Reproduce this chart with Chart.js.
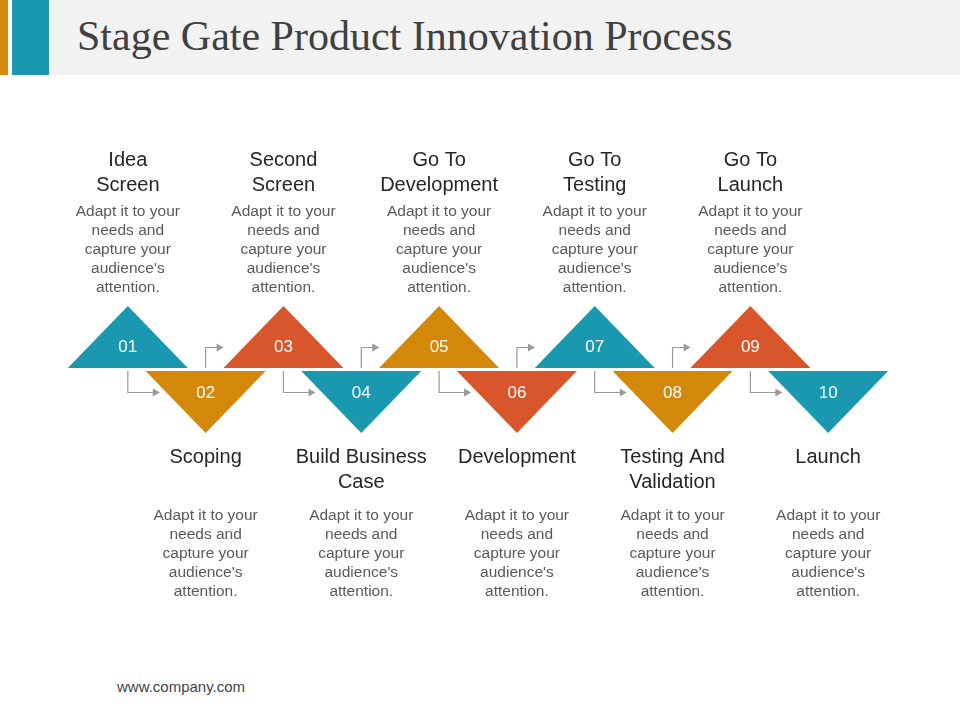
<!DOCTYPE html>
<html><head><meta charset="utf-8">
<script src="https://cdn.jsdelivr.net/npm/chart.js@4"></script>
<style>
body{margin:0;width:960px;height:720px;background:#fff;position:relative;overflow:hidden;font-family:Arial,"Liberation Sans",sans-serif}
#bar{position:absolute;left:50px;top:0;width:910px;height:75px;background:#f2f2f2}
#o{position:absolute;left:0;top:0;width:8px;height:75px;background:#d4880a}
#t{position:absolute;left:12px;top:0;width:37px;height:75px;background:#1a98b0}
#title{position:absolute;left:77px;top:12px;font:42px "Liberation Serif",serif;color:#404040}
#foot{position:absolute;left:117px;top:678px;font:15px "Liberation Sans",Arial,sans-serif;color:#444}
#wrap{position:absolute;left:0;top:0;width:960px;height:720px}
</style></head><body>
<div id="bar"></div><div id="o"></div><div id="t"></div>
<div id="title">Stage Gate Product Innovation Process</div>
<div id="foot">www.company.com</div>
<div id="wrap"><canvas id="c"></canvas></div>
<script>
const steps = [1,2,3,4,5,6,7,8,9,10];
const numbers = ["01","02","03","04","05","06","07","08","09","10"];
const titles = [["Idea","Screen"],["Scoping"],["Second","Screen"],["Build Business","Case"],["Go To","Development"],["Development"],["Go To","Testing"],["Testing And","Validation"],["Go To","Launch"],["Launch"]];
const directions = ["up","down","up","down","up","down","up","down","up","down"];
const colors = ["#1a98b0","#d4880a","#d9552b","#1a98b0","#d4880a","#d9552b","#1a98b0","#d4880a","#d9552b","#1a98b0"];
const desc = ["Adapt it to your","needs and","capture your","audience's","attention."];

const plugin = {
  id:'tri',
  afterDatasetsDraw(chart){
    const ctx = chart.ctx;
    const pts = chart.getDatasetMeta(0).data;
    const W=60, H=62, G=1.5;
    ctx.save();
    // connectors
    ctx.strokeStyle="#9a9a9a"; ctx.fillStyle="#9a9a9a"; ctx.lineWidth=1.2;
    function arrow(x,y){ctx.beginPath();ctx.moveTo(x,y);ctx.lineTo(x-7,y-4);ctx.lineTo(x-7,y+4);ctx.closePath();ctx.fill();}
    for(let i=0;i<pts.length-1;i++){
      const p=pts[i], q=pts[i+1];
      ctx.beginPath();
      if(directions[i]==="up"){
        ctx.moveTo(p.x,p.y+G);ctx.lineTo(p.x,p.y+23);ctx.lineTo(p.x+31,p.y+23);ctx.stroke();arrow(p.x+32,p.y+23);
      } else {
        ctx.moveTo(p.x,p.y-G);ctx.lineTo(p.x,p.y-22);ctx.lineTo(p.x+16,p.y-22);ctx.stroke();arrow(p.x+18,p.y-22);
      }
    }
    pts.forEach((p,i)=>{
      const up = directions[i]==="up";
      ctx.fillStyle=colors[i];
      ctx.beginPath();
      if(up){ctx.moveTo(p.x,p.y-G-H);ctx.lineTo(p.x+W,p.y-G);ctx.lineTo(p.x-W,p.y-G);}
      else {ctx.moveTo(p.x-W,p.y+G);ctx.lineTo(p.x+W,p.y+G);ctx.lineTo(p.x,p.y+G+H);}
      ctx.closePath();ctx.fill();
      ctx.fillStyle="#fff";ctx.font="17px Arial, 'Liberation Sans', sans-serif";
      ctx.textAlign="center";ctx.textBaseline="middle";
      ctx.fillText(numbers[i],p.x,up?p.y-22:p.y+24);
      ctx.fillStyle="#262626";ctx.font="20px Arial, 'Liberation Sans', sans-serif";
      const t=titles[i];
      if(up){
        const ty=[p.y-209,p.y-184];
        const off=t.length===1?1:0;
        t.forEach((s,k)=>ctx.fillText(s,p.x,ty[k+off]));
        ctx.fillStyle="#595959";ctx.font="15.5px Arial, 'Liberation Sans', sans-serif";
        desc.forEach((s,k)=>ctx.fillText(s,p.x,p.y-158+k*19));
      } else {
        t.forEach((s,k)=>ctx.fillText(s,p.x,p.y+88+k*25));
        ctx.fillStyle="#595959";ctx.font="15.5px Arial, 'Liberation Sans', sans-serif";
        desc.forEach((s,k)=>ctx.fillText(s,p.x,p.y+146+k*19));
      }
    });
    ctx.restore();
  }
};

new Chart(document.getElementById('c'),{
  type:'scatter',
  data:{datasets:[{data:steps.map(s=>({x:s,y:0})),pointRadius:0,pointHoverRadius:0}]},
  options:{
    responsive:true,maintainAspectRatio:false,animation:false,
    layout:{padding:{left:50,right:54,top:19,bottom:0}},
    plugins:{legend:{display:false},tooltip:{enabled:false}},
    scales:{x:{display:false,min:0,max:11},y:{display:false,min:-1,max:1}}
  },
  plugins:[plugin]
});
</script>
</body></html>
